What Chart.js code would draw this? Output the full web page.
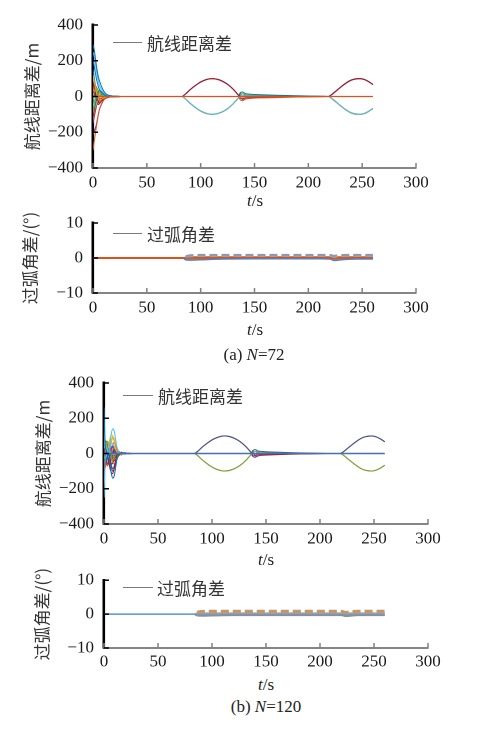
<!DOCTYPE html>
<html><head><meta charset="utf-8">
<script src="https://cdn.jsdelivr.net/npm/chart.js@4.4.1/dist/chart.umd.min.js"></script>
<style>
html,body{margin:0;padding:0;background:#fff;}
body{width:502px;height:730px;position:relative;overflow:hidden;}
canvas{position:absolute;left:0;}
.t{position:absolute;transform:translate(-50%,-50%);font-family:'Liberation Serif','Times New Roman',serif;font-size:17px;color:#222;white-space:nowrap;}
.lgl{position:absolute;height:1px;background:#7a7a7a;}
.lgt{position:absolute;transform:translateY(-50%);font-family:'Noto Sans CJK SC',sans-serif;font-size:17px;color:#333;white-space:nowrap;}
</style></head><body>
<canvas id="c1" style="top:0px;width:502px;height:195px"></canvas>
<canvas id="c2" style="top:200px;width:502px;height:115px"></canvas>
<canvas id="c3" style="top:360px;width:502px;height:200px"></canvas>
<canvas id="c4" style="top:560px;width:502px;height:110px"></canvas>

<div class="lgl" style="left:113px;top:42px;width:29px"></div><div class="lgt" style="left:147px;top:42px">航线距离差</div>
<div class="lgl" style="left:113px;top:233px;width:29px"></div><div class="lgt" style="left:147px;top:233px">过弧角差</div>
<div class="lgl" style="left:123px;top:395px;width:30px"></div><div class="lgt" style="left:158px;top:395px">航线距离差</div>
<div class="lgl" style="left:123px;top:587px;width:30px"></div><div class="lgt" style="left:157px;top:587px">过弧角差</div>

<div class="t" style="left:255px;top:201px"><i>t</i>/s</div>
<div class="t" style="left:255px;top:330px"><i>t</i>/s</div>
<div class="t" style="left:254px;top:355px">(a) <i>N</i>=72</div>
<div class="t" style="left:266px;top:560px"><i>t</i>/s</div>
<div class="t" style="left:266px;top:685px"><i>t</i>/s</div>
<div class="t" style="left:266px;top:707px">(b) <i>N</i>=120</div>

<script>
// ---------- ticks ----------
const xTicks = [0, 50, 100, 150, 200, 250, 300];
const yTicksDist = [-400, -200, 0, 200, 400];
const yTicksAng = [-10, 0, 10];

// ---------- (a) N=72 : 航线距离差 ----------
const tA_trans = [0,1,2,3,4,5,6,8,10,12,15,18,22,26,32,40];
const dA_trans = [
  [290,265,225,180,140,110,88,55,30,15,6,3,1,0,0,0],
  [250,225,190,150,115,85,62,38,20,10,4,2,1,0,0,0],
  [200,175,140,105,78,55,40,22,12,6,2,1,0,0,0,0],
  [-300,-255,-215,-175,-138,-100,-72,-40,-20,-8,-3,-1,0,0,0,0],
  [-210,-195,-180,-160,-130,-100,-72,-42,-20,-10,-4,-2,-1,0,0,0],
  [120,88,58,28,5,-14,-20,-15,-8,-3,0,1,0,0,0,0],
  [-90,-58,-28,0,24,34,30,15,5,-2,-3,-1,0,0,0,0],
  [60,70,50,20,-10,-30,-35,-25,-10,0,4,3,1,0,0,0],
  [-60,-70,-50,-20,10,30,35,25,12,4,-2,-2,-1,0,0,0],
  [40,55,45,25,5,-10,-20,-20,-12,-5,2,3,1,0,0,0],
  [-40,-55,-60,-45,-25,-5,10,18,14,8,3,1,-1,0,0,0],
  [30,20,5,-15,-35,-45,-40,-25,-12,-5,-1,1,1,0,0,0],
  [-20,10,35,50,45,30,15,0,-8,-6,-3,-1,0,0,0,0],
  [10,-20,-40,-45,-30,-10,10,20,15,7,2,-1,-1,0,0,0],
  [80,60,30,0,-20,-25,-20,-10,0,4,3,1,0,0,0,0],
  [-130,-100,-70,-40,-15,5,15,18,12,6,2,1,0,0,0,0],
  [150,110,70,35,10,-8,-15,-15,-8,-3,-1,0,0,0,0,0],
  [0,35,55,50,30,10,-5,-14,-12,-6,-2,0,1,0,0,0],
  [-150,-120,-90,-60,-35,-15,0,10,10,5,2,1,0,0,0,0],
  [50,30,0,-25,-40,-38,-28,-10,2,6,4,2,1,0,0,0],
  [70,45,20,-5,-25,-30,-25,-12,-2,3,3,1,0,0,0,0],
  [-70,-45,-15,10,28,32,25,10,0,-4,-3,-1,0,0,0,0],
  [25,50,60,40,15,-5,-18,-22,-14,-6,0,2,1,0,0,0],
  [-25,-50,-55,-35,-10,10,22,22,12,4,-1,-2,-1,0,0,0],
  [100,75,45,15,-8,-22,-26,-18,-6,2,3,1,0,0,0,0],
  [-100,-80,-50,-20,5,20,24,18,8,0,-3,-2,0,0,0,0],
  [15,-35,-60,-55,-35,-12,8,20,16,8,2,0,-1,0,0,0],
  [-15,30,55,55,35,12,-6,-18,-16,-8,-2,1,1,0,0,0]
];
const tA_lens1 = [83,86,90,95,100,105,110,115,120,125,130,133,135,137];
const dA_lens1 = [
  [0,14,37,61,81,94,100,97,86,68,42,22,8,0],
  [0,13,36,60,80,93,99,96,85,67,41,21,7,0],
  [0,15,38,62,82,95,100,97,87,69,43,23,9,1],
  [0,-14,-37,-61,-81,-94,-100,-97,-86,-68,-42,-22,-8,0],
  [0,-13,-36,-60,-80,-93,-99,-96,-85,-67,-41,-21,-7,0],
  [0,-15,-38,-62,-82,-95,-100,-97,-87,-69,-43,-23,-9,-1]
];
const tA_blob = [135,137,139,141,144,148,155,170,190,210,220];
const dA_blob = [
  [0,22,25,18,14,12,10,7,4,1.5,0],
  [0,-20,-24,-16,-12,-10,-8,-6,-3,-1,0],
  [0,12,16,10,8,7,6,4,2.5,1,0],
  [0,-10,-14,-9,-7,-6,-5,-3.5,-2,-0.8,0],
  [0,5,8,5,4,3,3,2,1,0.5,0],
  [0,-4,-6,-4,-3,-2.5,-2,-1.5,-1,-0.4,0],
  [0,16,-18,12,-8,5,3,2,1,0.5,0]
];
const tA_lens2 = [219,222,226,230,235,240,245,248,252,256,260];
const dA_lens2 = [
  [0,12,32,52,75,92,99,100,95,83,67],
  [0,11,31,51,74,91,98,99,94,82,66],
  [0,13,33,53,76,93,100,100,96,84,68],
  [0,-12,-32,-52,-75,-92,-99,-100,-95,-83,-67],
  [0,-11,-31,-51,-74,-91,-98,-99,-94,-82,-66],
  [0,-13,-33,-53,-76,-93,-100,-100,-96,-84,-68]
];
const tA_base = [0, 260];
const dA_base = [0, 0];

// ---------- (a) N=72 : 过弧角差 ----------
const tA_ang = [0,84,86,90,100,120,150,180,210,220,224,228,235,245,260];
const aA_solid = [
  [0,0,0.1,0.2,0.2,0.2,0.2,0.2,0.2,0.2,0.1,0.2,0.2,0.2,0.2],
  [null,0,-0.1,-0.1,-0.1,-0.1,-0.1,-0.1,-0.1,-0.1,-0.2,-0.1,-0.1,-0.1,-0.1],
  [null,0,-0.5,-0.6,-0.5,-0.3,-0.2,-0.2,-0.2,-0.3,-0.7,-0.6,-0.4,-0.3,-0.3]
];
const aA_dash = [
  [null,null,0.5,0.8,0.9,0.9,0.9,0.9,0.9,0.9,0.6,0.8,0.9,0.9,0.9],
  [null,null,0.3,0.5,0.6,0.6,0.6,0.6,0.6,0.6,0.3,0.5,0.6,0.6,0.6]
];

// ---------- (b) N=120 : 航线距离差 ----------
const tB_trans = [0,0.5,1,2,3,4,5,6,7,8,9,10,11,12,14,16,19,23,28,35];
const dB_trans = [
  [260,150,60,20,0,-10,-8,-4,0,3,4,3,2,1,0,0,0,0,0,0],
  [-250,-140,-50,-10,10,20,15,8,0,-5,-6,-4,-2,-1,0,0,0,0,0,0],
  [30,40,50,40,20,0,30,80,120,140,135,110,70,35,10,0,-3,-1,0,0],
  [-30,-40,-50,-40,-20,0,-30,-80,-120,-140,-135,-110,-70,-35,-10,0,3,1,0,0],
  [80,90,70,40,20,40,70,95,105,100,80,50,25,10,0,-5,-3,0,0,0],
  [-80,-90,-70,-40,-20,-40,-70,-95,-110,-115,-95,-60,-30,-10,0,4,2,0,0,0],
  [50,20,-10,-40,-60,-50,-30,0,30,40,30,15,5,-2,-5,-3,0,0,0,0],
  [-50,-20,10,40,60,50,30,0,-30,-40,-30,-15,-5,2,5,3,0,0,0,0],
  [120,60,20,-10,-30,-20,10,40,60,55,40,20,8,0,-4,-2,0,0,0,0],
  [-120,-60,-20,10,30,20,-10,-40,-60,-55,-40,-20,-8,0,4,2,0,0,0,0],
  [20,60,40,0,-30,-50,-40,-10,20,30,25,15,5,0,-2,-1,0,0,0,0],
  [-20,-60,-40,0,30,50,40,10,-20,-30,-25,-15,-5,0,2,1,0,0,0,0],
  [200,80,30,0,-20,-30,-20,0,20,30,25,15,8,3,0,0,0,0,0,0],
  [-200,-80,-30,0,20,30,20,0,-20,-30,-25,-15,-8,-3,0,0,0,0,0,0],
  [60,30,-10,-50,-70,-60,-40,-10,20,45,60,55,35,15,2,-4,-2,0,0,0],
  [-60,-30,10,50,70,60,40,10,-20,-45,-60,-55,-35,-15,-2,4,2,0,0,0],
  [0,30,60,70,50,20,-10,-40,-70,-85,-80,-60,-35,-15,0,6,3,1,0,0],
  [0,-30,-60,-70,-50,-20,10,40,70,85,80,60,35,15,0,-6,-3,-1,0,0],
  [10,-10,20,-20,30,-30,20,-20,10,-10,30,-25,20,-18,12,-9,5,-2,0,0],
  [-10,10,-20,20,-30,30,-20,20,-10,10,-30,25,-20,18,-12,9,-5,2,0,0],
  [40,70,80,60,30,10,20,50,80,95,90,70,40,20,5,-3,-2,0,0,0],
  [-40,-70,-80,-60,-30,-10,-20,-50,-80,-100,-95,-75,-45,-20,-5,3,2,0,0,0],
  [150,90,40,10,-15,-35,-45,-30,0,25,40,40,28,14,3,-3,-2,0,0,0],
  [-150,-90,-40,-10,15,35,45,30,0,-25,-40,-40,-28,-14,-3,3,2,0,0,0],
  [0,-20,-35,-20,10,40,60,55,30,5,-15,-22,-18,-10,-2,2,1,0,0,0],
  [0,20,35,20,-10,-40,-60,-55,-30,-5,15,22,18,10,2,-2,-1,0,0,0]
];
const tB_lens1 = [84,87,91,96,101,106,111,116,121,126,131,134,136,138];
const dB_lens1 = [
  [0,14,37,61,81,94,100,97,86,68,42,22,8,0],
  [0,13,36,60,80,93,99,96,85,67,41,21,7,0],
  [0,-14,-37,-61,-81,-94,-100,-97,-86,-68,-42,-22,-8,0],
  [0,-13,-36,-60,-80,-93,-99,-96,-85,-67,-41,-21,-7,0]
];
const tB_blob = [136,138,140,142,145,150,158,172,188,200,210];
const dB_blob = [
  [0,18,22,16,12,10,8,5,3,1,0],
  [0,-17,-21,-15,-11,-9,-7,-4.5,-2.5,-1,0],
  [0,10,13,9,7,6,5,3,1.5,0.5,0],
  [0,-9,-12,-8,-6,-5,-4,-2.5,-1.5,-0.5,0],
  [0,14,-15,10,-7,4,2,1,0.5,0.2,0]
];
const tB_lens2 = [219,222,226,230,235,240,245,248,252,256,260];
const dB_lens2 = [
  [0,12,32,52,75,92,99,100,95,83,67],
  [0,11,31,51,74,91,98,99,94,82,66],
  [0,-12,-32,-52,-75,-92,-99,-100,-95,-83,-67],
  [0,-11,-31,-51,-74,-91,-98,-99,-94,-82,-66]
];
const tB_base = [0, 260];
const dB_base = [0, 0];

// ---------- (b) N=120 : 过弧角差 ----------
const tB_ang = [0,84,86,90,100,120,150,180,210,220,224,228,235,245,260];
const aB_solid = [
  [0,0,-0.1,-0.1,-0.1,-0.1,-0.1,-0.1,-0.1,-0.1,-0.2,-0.1,-0.1,-0.1,-0.1],
  [null,0,-0.4,-0.5,-0.4,-0.3,-0.3,-0.3,-0.3,-0.3,-0.6,-0.5,-0.3,-0.3,-0.3],
  [null,0,0.1,0.2,0.2,0.2,0.2,0.2,0.2,0.2,0.1,0.2,0.2,0.2,0.2]
];
const aB_dash = [
  [null,null,0.7,0.9,1.0,1.0,1.0,1.0,1.0,1.0,0.6,0.9,1.0,1.0,1.0],
  [null,null,0.4,0.6,0.7,0.7,0.7,0.7,0.7,0.7,0.4,0.6,0.7,0.7,0.7]
];

// ---------- styles ----------
const MC = ['#0072BD','#D95319','#EDB120','#7E2F8E','#77AC30','#4DBEEE','#A2142F'];
const cA_trans = [0,5,0,1,3,2,4,6,0,1,2,3,4,5,6,1,0,2,3,4,6,5,1,4,2,3,0,6].map(i=>MC[i]);
const cA_lens = ['#A2142F','#D95319','#0072BD','#4DBEEE','#77AC30','#D95319'];
const cA_blob = ['#0072BD','#D95319','#77AC30','#7E2F8E','#4DBEEE','#EDB120','#A2142F'];
const cB_trans = [0,5,5,0,2,6,3,4,5,6,2,1,0,3,1,4,0,2,6,4,2,6,5,3,1,4].map(i=>MC[i]);
const cB_lens = ['#3b5b9a','#A2142F','#77AC30','#8a6a3a'];
const cB_blob = ['#3b5b9a','#A2142F','#77AC30','#7E2F8E','#0072BD'];

function mk(times, rows, colors, extra) {
  return rows.map((r, i) => Object.assign({
    data: times.map((t, j) => ({ x: t, y: r[j] })),
    borderColor: colors[i % colors.length],
    borderWidth: 1,
    pointRadius: 0,
    cubicInterpolationMode: 'monotone',
    spanGaps: false,
    fill: false
  }, extra || {}));
}

const inwardTicks = {
  id: 'inwardTicks',
  afterDatasetsDraw(chart) {
    const { ctx, chartArea: a, scales: { x, y } } = chart;
    ctx.save();
    ctx.lineWidth = 1.5;
    ctx.strokeStyle = '#808080';
    x.ticks.forEach(t => {
      const px = x.getPixelForValue(t.value);
      ctx.beginPath(); ctx.moveTo(px, a.bottom); ctx.lineTo(px, a.bottom - 5); ctx.stroke();
    });
    ctx.strokeStyle = '#000';
    y.ticks.forEach(t => {
      const py = y.getPixelForValue(t.value);
      ctx.beginPath(); ctx.moveTo(a.left, py); ctx.lineTo(a.left + 5, py); ctx.stroke();
    });
    ctx.restore();
  }
};

const fmt = v => String(v).replace('-', '\u2212');

function panel(id, datasets, o) {
  const cv = document.getElementById(id);
  new Chart(cv, {
    type: 'line',
    data: { datasets },
    plugins: [inwardTicks],
    options: {
      responsive: false,
      devicePixelRatio: 2,
      animation: false,
      events: [],
      layout: { padding: { top: o.padTop, right: o.padRight, left: 0, bottom: 0 } },
      plugins: { legend: { display: false }, tooltip: { enabled: false } },
      scales: {
        x: {
          type: 'linear', min: 0, max: 300,
          afterBuildTicks: s => { s.ticks = xTicks.map(v => ({ value: v })); },
          afterFit: s => { s.height = o.xH; },
          grid: { display: false, drawTicks: false },
          border: { display: true, color: '#858585', width: 2 },
          ticks: { padding: o.xPad, color: '#1a1a1a', font: { family: "'Liberation Serif', serif", size: 17 }, maxRotation: 0, callback: fmt }
        },
        y: {
          type: 'linear', min: o.yTicks[0], max: o.yTicks[o.yTicks.length - 1],
          afterBuildTicks: s => { s.ticks = o.yTicks.map(v => ({ value: v })); },
          afterFit: s => { s.width = o.yW; },
          grid: { display: false, drawTicks: false },
          border: { display: true, color: '#000', width: 2.6 },
          ticks: { padding: 10, color: '#1a1a1a', font: { family: "'Liberation Serif', serif", size: 17 }, callback: fmt },
          title: { display: true, text: o.yTitle, color: '#333', padding: { top: o.titlePad, bottom: 0 },
                   font: { family: "'Noto Sans CJK SC', sans-serif", size: 17 } }
        }
      }
    }
  });
}

// set canvas pixel sizes
[['c1',195],['c2',115],['c3',200],['c4',110]].forEach(([id,h]) => {
  const c = document.getElementById(id); c.width = 502; c.height = h;
});

panel('c1', [
  ...mk(tA_base, [dA_base], ['#D95319'], { borderWidth: 1.3 }),
  ...mk(tA_trans, dA_trans, cA_trans),
  ...mk(tA_lens1, dA_lens1, cA_lens),
  ...mk(tA_blob, dA_blob, cA_blob),
  ...mk(tA_lens2, dA_lens2, cA_lens)
], { padTop: 25, padRight: 86, xH: 27, xPad: 5, yW: 93, yTicks: yTicksDist, yTitle: '航线距离差/m', titlePad: 22 });

panel('c2', [
  ...mk(tA_ang, aA_dash, ['#8c98b0', '#a0a8b8'], { borderWidth: 2, borderDash: [8, 4], cubicInterpolationMode: 'default', tension: 0 }),
  ...mk(tA_ang, [aA_solid[2]], ['#5a7fb8'], { borderWidth: 1.5 }),
  ...mk(tA_ang, aA_solid.slice(0, 2), ['#D95319', '#c8652e'], { borderWidth: 2 })
], { padTop: 23, padRight: 86, xH: 22, xPad: 5, yW: 93, yTicks: yTicksAng, yTitle: '过弧角差/(°)', titlePad: 20 });

panel('c3', [
  ...mk(tB_base, [dB_base], ['#4a6fb0'], { borderWidth: 1.5 }),
  ...mk(tB_trans, dB_trans, cB_trans),
  ...mk(tB_lens1, dB_lens1, cB_lens),
  ...mk(tB_blob, dB_blob, cB_blob),
  ...mk(tB_lens2, dB_lens2, cB_lens)
], { padTop: 23, padRight: 74, xH: 36, xPad: 5, yW: 104, yTicks: yTicksDist, yTitle: '航线距离差/m', titlePad: 33 });

panel('c4', [
  ...mk(tB_ang, aB_solid.slice(1), ['#8a8f9a', '#9aa0a8'], { borderWidth: 2 }),
  ...mk(tB_ang, aB_dash, ['#d39250', '#a0a0a0'], { borderWidth: 2, borderDash: [8, 4], cubicInterpolationMode: 'default', tension: 0 }),
  ...mk(tB_ang, [aB_solid[0]], ['#5b8fd6'], { borderWidth: 1.5 })
], { padTop: 17, padRight: 74, xH: 22, xPad: 4, yW: 104, yTicks: yTicksAng, yTitle: '过弧角差/(°)', titlePad: 32 });
</script>
</body></html>
